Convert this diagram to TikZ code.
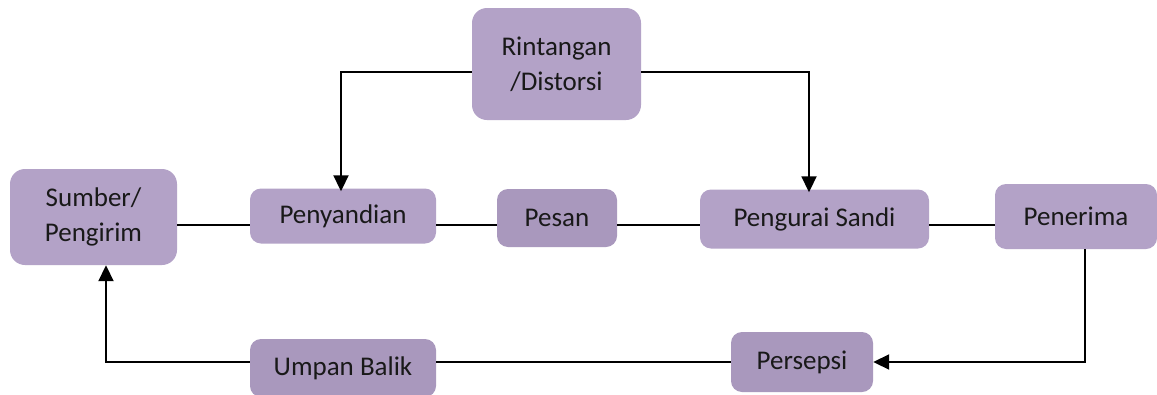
\documentclass[tikz,border=0pt]{standalone}
\usepackage{fontspec}
\setmainfont{Carlito}
\usetikzlibrary{arrows.meta}
\definecolor{boxfill}{HTML}{B3A2C7}
\definecolor{boxdark}{HTML}{A998BD}
\tikzset{
  box/.style={fill=boxfill, rounded corners=11pt, inner sep=0pt, align=center,
    font=\fontsize{27}{35}\selectfont, text=black!90},
  conn/.style={line width=1.9pt, black},
  arr/.style={conn, -{Triangle[width=15pt,length=16pt]}},
}
\begin{document}
\begin{tikzpicture}[x=1pt,y=-1pt]
\clip (0,0) rectangle (1157,394);
\fill[white] (0,0) rectangle (1157,394);
\node[box, rounded corners=15pt, minimum width=167pt, minimum height=96pt] (sumber) at (93.5,217) {Sumber/\\Pengirim};
\node[box, minimum width=186pt, minimum height=55pt] (peny) at (343,216) {Penyandian};
\node[box, fill=boxdark, minimum width=120pt, minimum height=58pt] (pesan) at (557,218) {Pesan};
\node[box, minimum width=229pt, minimum height=59pt] (peng) at (814.5,219) {Pengurai Sandi};
\node[box, minimum width=162pt, minimum height=65pt] (pener) at (1076,216.5) {Penerima};
\node[box, rounded corners=15pt, minimum width=169pt, minimum height=112pt] (rint) at (556.5,64) {Rintangan\\/Distorsi};
\node[box, fill=boxdark, minimum width=142pt, minimum height=60pt] (pers) at (802,362) {Persepsi};
\node[box, fill=boxdark, minimum width=186pt, minimum height=58pt] (umpan) at (343,368) {Umpan Balik};
\coordinate (yl) at (0,225);
\coordinate (yr) at (0,72);
\coordinate (xl) at (341,0);
\coordinate (xr) at (809,0);
\coordinate (xp) at (1085,0);
\coordinate (yb) at (0,362);
\coordinate (xs) at (106,0);
% top branches
\draw[arr] (rint.west |- yr) -- (xl |- yr) -- ([yshift=-3pt]xl |- peny.north);
\draw[arr] (rint.east |- yr) -- (xr |- yr) -- ([yshift=-3pt]xr |- peng.north);
% main row
\draw[conn] (sumber.east |- yl) -- (peny.west |- yl);
\draw[conn] (peny.east |- yl) -- (pesan.west |- yl);
\draw[conn] (pesan.east |- yl) -- (peng.west |- yl);
\draw[conn] (peng.east |- yl) -- (pener.west |- yl);
% feedback loop
\draw[arr] (xp |- pener.south) -- (xp |- yb) -- (pers.east |- yb);
\draw[conn] (pers.west |- yb) -- (umpan.east |- yb);
\draw[arr] (umpan.west |- yb) -- (xs |- yb) -- (xs |- sumber.south);
\end{tikzpicture}
\end{document}
